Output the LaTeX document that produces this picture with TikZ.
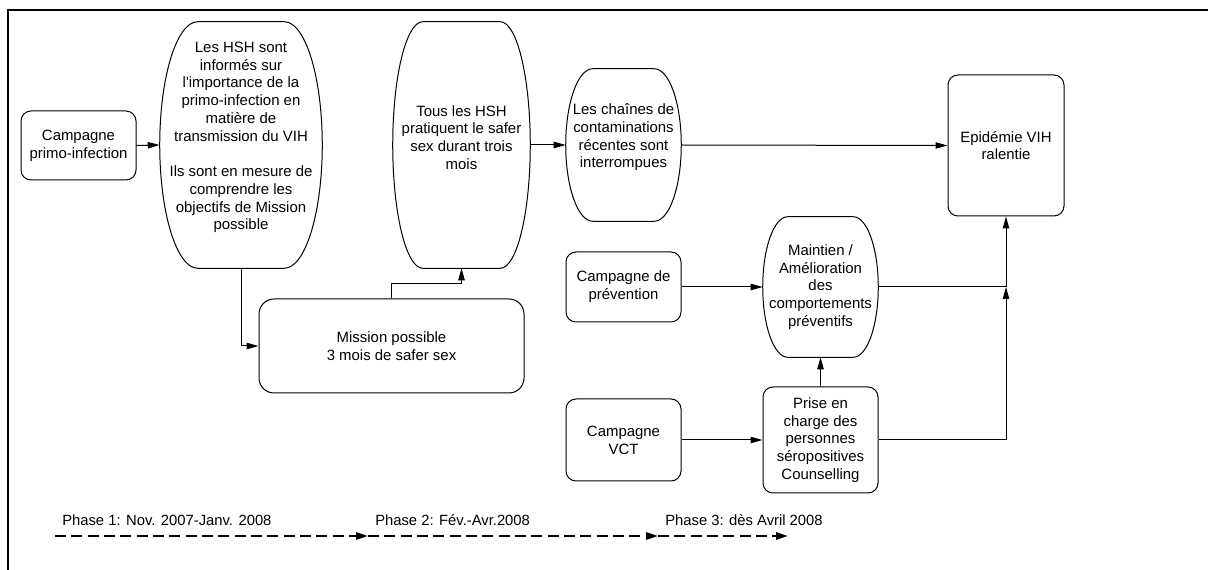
\documentclass[tikz,border=0pt]{standalone}
\usepackage{fontspec}
\setmainfont{Liberation Sans}
\usepackage{tikz}
\usetikzlibrary{calc,arrows.meta}
\newcommand{\nodefont}{\fontsize{11.2}{13.3}\selectfont}
\newcommand{\phasefont}{\fontsize{11.1}{13}\selectfont}
\tikzset{
  box/.style={draw, line width=0.75pt, rounded corners=7.5pt, align=center, inner sep=0pt, font=\nodefont},
  barrel/.style={inner sep=0pt, align=center, font=\nodefont},
  lab/.style={inner sep=0pt, align=center, font=\nodefont},
  link/.style={line width=0.75pt},
  conn/.style={line width=0.75pt, -{Triangle[length=9pt,width=4.8pt]}},
  phase/.style={line width=1.5pt, dash pattern=on 8.25pt off 4pt, -{Triangle[length=9pt,width=5.5pt]}},
  phaselab/.style={inner sep=0pt, anchor=base west, font=\phasefont},
  frame/.style={line width=2pt}
}
% outline with elliptic sides round a node
\newcommand{\drawbarrel}[2]{%
  \draw[link] let \p1=(#1.north east), \p2=(#1.south west), \n1={(\y1-\y2)/2} in
    (\x1-#2,\y1) -- (\x2+#2,\y1)
    arc[start angle=90, end angle=270, x radius=#2, y radius={\n1*1pt}]
    -- (\x1-#2,\y2)
    arc[start angle=-90, end angle=90, x radius=#2, y radius={\n1*1pt}] -- cycle;}

\begin{document}
\begin{tikzpicture}[x=0.75pt, y=-0.75pt]
  \useasboundingbox (0,0) rectangle (1208,570);
  \draw[frame] (1208,10) -- (8,10) -- (8,570);

  % Phase 1 chain
  \node[box, minimum width=86.25pt, minimum height=51.75pt] (camp1) at (78.5,145.5) {Campagne\\primo-infection};
  \node[barrel, minimum width=121.5pt, minimum height=184.5pt] (info) at (241,145) {};
  \node[lab] (info-lab) at ($(info.center)+(0,-7.5)$) {Les HSH sont\\informés sur\\l\textquotesingle importance de la\\primo-infection en\\matière de\\transmission du VIH\\[13.3pt]Ils sont en mesure de\\comprendre les\\objectifs de Mission\\possible};
  \node[box, rounded corners=11.25pt, minimum width=198.75pt, minimum height=70.5pt] (mission) at (391.5,346) {Mission possible\\3 mois de safer sex};
  \node[barrel, minimum width=102.75pt, minimum height=184.5pt] (tous) at (461.5,145) {};
  \node[lab] (tous-lab) at ($(tous.center)+(0,-7.5)$) {Tous les HSH\\pratiquent le safer\\sex durant trois\\mois};
  \node[barrel, minimum width=86.25pt, minimum height=114pt] (chaines) at (623.5,145) {};
  \node[lab] (chaines-lab) at ($(chaines.center)+(0,-7.5)$) {Les chaînes de\\contaminations\\récentes sont\\interrompues};
  \node[box, minimum width=87pt, minimum height=105.75pt] (epid) at (1006,145.5) {Epidémie VIH\\ralentie};

  % prevention and VCT
  \node[box, minimum width=86.25pt, minimum height=52.5pt] (prev) at (623.5,287) {Campagne de\\prévention};
  \node[barrel, minimum width=86.25pt, minimum height=105pt] (maint) at (820.5,287) {Maintien /\\Amélioration\\des\\comportements\\préventifs};
  \node[box, minimum width=86.25pt, minimum height=61.5pt] (vct) at (623.5,440) {Campagne\\VCT};
  \node[box, minimum width=86.25pt, minimum height=79.5pt] (prise) at (820.5,440) {Prise en\\charge des\\personnes\\séropositives\\Counselling};

  \drawbarrel{info}{28.5pt}
  \drawbarrel{tous}{22.5pt}
  \drawbarrel{chaines}{20.25pt}
  \drawbarrel{maint}{18.75pt}

  % connectors
  \draw[conn] (camp1.east) -- (info.west);
  \draw[conn] (info.south) |- (mission.west);
  \draw[conn] (mission.north) -- ++(0,-15) -| (tous.south);
  \draw[conn] (tous.east) -- (chaines.west);
  \draw[conn] (chaines.east) -- (epid.west);
  \draw[conn] (prev.east) -- (maint.west);
  \draw[conn] (vct.east) -- (prise.west);
  \draw[conn] (prise.north) -- (maint.south);
  \coordinate (join) at (epid.south |- maint.east);
  \draw[link] (maint.east) -- (join);
  \draw[conn] (prise.east) -| (join);
  \draw[conn] (join) -- (epid.south);

  % timeline
  \coordinate (t0) at (55,536);
  \coordinate (t1) at (368,536);
  \coordinate (t2) at (658,536);
  \coordinate (t3) at (788,536);
  \draw[phase] (t0) -- (t1);
  \draw[phase] (t1) -- (t2);
  \draw[phase] (t2) -- (t3);
  \node[phaselab] (ph1) at (62,526) {Phase 1: Nov. 2007-Janv. 2008};
  \node[phaselab] (ph2) at (375,526) {Phase 2: Fév.-Avr.2008};
  \node[phaselab] (ph3) at (665,526) {Phase 3: dès Avril 2008};
\end{tikzpicture}
\end{document}
